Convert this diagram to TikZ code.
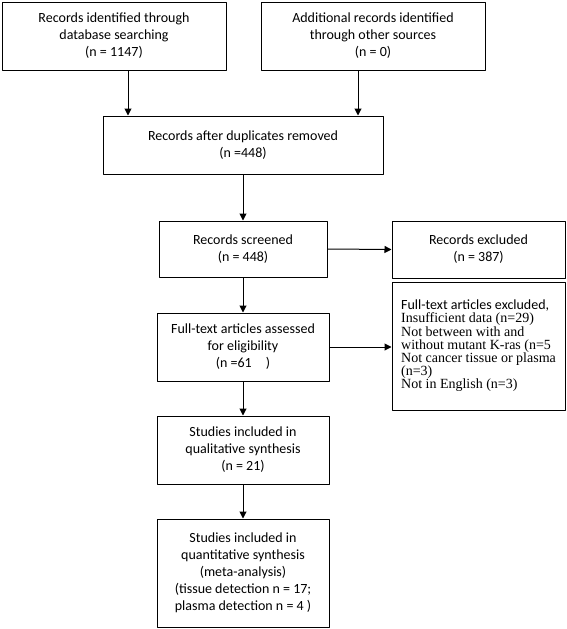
\documentclass[tikz,border=0pt]{standalone}
\usepackage{fontspec}
\setmainfont{Carlito}
\newfontfamily\timesfont{Liberation Serif}
\usetikzlibrary{arrows.meta}
\tikzset{
  box/.style={draw, line width=1pt, align=center, inner sep=0pt,
    font=\fontsize{14}{17}\selectfont},
  flow/.style={-{Triangle[length=7pt,width=7pt]}, line width=1pt}
}
\begin{document}
\begin{tikzpicture}[x=1pt, y=-1pt, line join=round]
  \useasboundingbox (0,0) rectangle (567,629);
  % identification
  \node[box, minimum width=224pt, minimum height=68pt] (ident) at (114,36)
    {Records identified through\\ database searching\\ (n = 1147)};
  \node[box, minimum width=224pt, minimum height=68pt] (other) at (373,36)
    {Additional records identified\\ through other sources\\ (n = 0)};
  \node[box, minimum width=280pt, minimum height=58pt] (dedup) at (243,145)
    {Records after duplicates removed\\ (n =448)};
  % screening
  \node[box, minimum width=168pt, minimum height=56pt] (screen) at (243,249)
    {Records screened\\ (n = 448)};
  \node[box, minimum width=173pt, minimum height=57pt] (excl) at (478.5,249.5)
    {Records excluded\\ (n = 387)};
  % eligibility
  \node[box, minimum width=172pt, minimum height=68pt] (elig) at (243,347)
    {Full-text articles assessed\\ for eligibility\\ (n =61\quad)};
  \node[box, minimum width=173pt, minimum height=128pt, align=left,
    font=\timesfont\fontsize{14}{13.2}\selectfont] (fullex) at (478.5,346)
    {{\rmfamily\fontsize{14}{13.2}\selectfont Full-text articles excluded,}\\
     Insufficient data (n=29)\\
     Not between with and\\
     without mutant K-ras (n=5\\
     Not cancer tissue or plasma\\
     (n=3)\\
     Not in English (n=3)};
  % included
  \node[box, minimum width=172pt, minimum height=68pt] (qual) at (243,450)
    {Studies included in\\ qualitative synthesis\\ (n = 21)};
  \node[box, minimum width=172pt, minimum height=108pt] (quant) at (243,573)
    {Studies included in\\ quantitative synthesis\\ (meta-analysis)\\
     (tissue detection n = 17;\\ plasma detection n = 4 )};
  % connectors
  \draw[flow] ([xshift=14pt]ident.south) -- ([xshift=14pt]ident.south |- dedup.north);
  \draw[flow] ([xshift=-15pt]other.south) -- ([xshift=-15pt]other.south |- dedup.north);
  \draw[flow] (dedup) -- (screen);
  \draw[flow] (screen) -- (elig);
  \draw[flow] (screen.east) -- (excl.west);
  \draw[flow] (elig.east) -- (elig.east -| fullex.west);
  \draw[flow] (elig) -- (qual);
  \draw[flow] (qual) -- (quant);
\end{tikzpicture}
\end{document}
